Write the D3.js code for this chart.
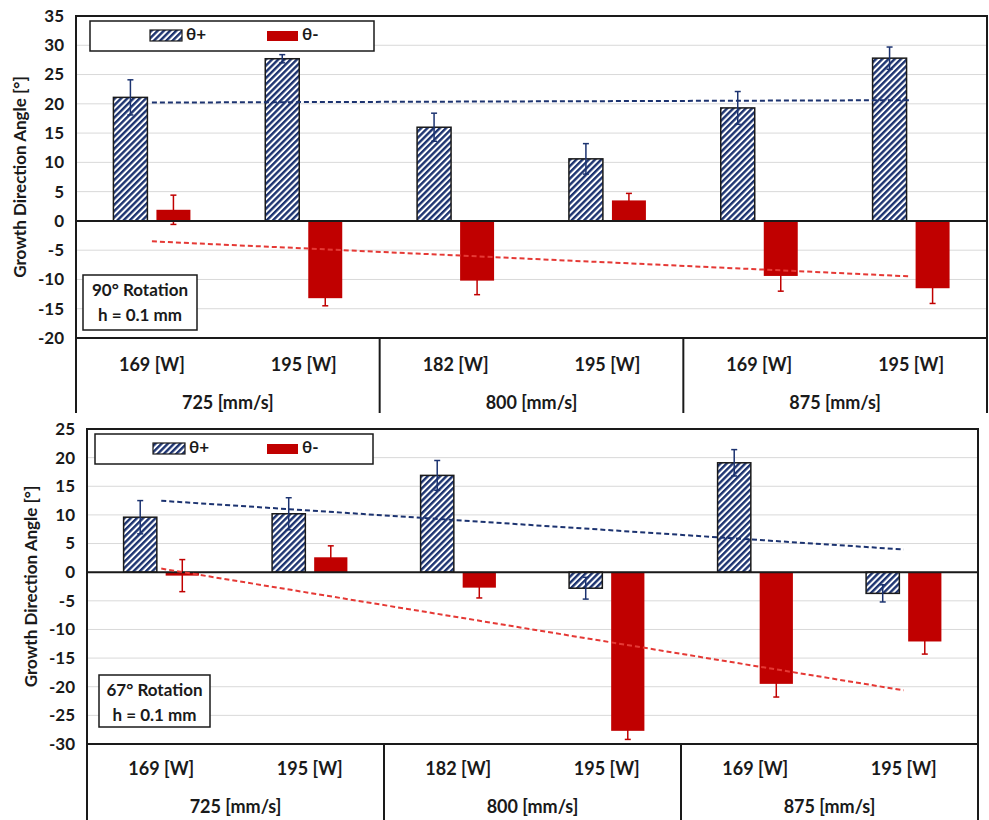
<!doctype HTML>
<html>
<head>
<script src="https://d3js.org/d3.v7.min.js"></script>
<style>
    body { margin: 0; background: #fff; }
    text { font-family: Lato, "Open Sans", sans-serif; font-weight: bold; fill: #1a1a1a; }
</style>
</head>
<body>
<script>

    // category labels (two level axis)
    var powers = ["169 [W]", "195 [W]", "182 [W]", "195 [W]", "169 [W]", "195 [W]"];
    var speeds = ["725 [mm/s]", "800 [mm/s]", "875 [mm/s]"];
    var seriesNames = ["θ+", "θ-"];

    // 90° rotation
    var plus90 = [21.1, 27.7, 16.0, 10.6, 19.3, 27.8];
    var plus90Err = [3.0, 0.7, 2.4, 2.6, 2.8, 1.9];
    var minus90 = [1.9, -13.2, -10.2, 3.5, -9.4, -11.5];
    var minus90Err = [2.5, 1.3, 2.4, 1.2, 2.6, 2.6];
    var ticks90 = [-20, -15, -10, -5, 0, 5, 10, 15, 20, 25, 30, 35];

    // 67° rotation
    var plus67 = [9.6, 10.2, 16.9, -2.8, 19.1, -3.7];
    var plus67Err = [2.9, 2.8, 2.6, 1.9, 2.3, 1.5];
    var minus67 = [-0.6, 2.6, -2.7, -27.7, -19.5, -12.1];
    var minus67Err = [2.8, 2.0, 1.8, 1.5, 2.3, 2.2];
    var ticks67 = [-30, -25, -20, -15, -10, -5, 0, 5, 10, 15, 20, 25];

    var navy = "#1c3370", red = "#c00000", trendRed = "#e53935", ink = "#1a1a1a";

    var svg = d3.select("body")
        .append("svg")
        .attr("width", 989)
        .attr("height", 820);

    // hatch for θ+ bars
    var pat = svg.append("defs").append("pattern")
        .attr("id", "hatch")
        .attr("patternUnits", "userSpaceOnUse")
        .attr("width", 4.4)
        .attr("height", 4.4)
        .attr("patternTransform", "rotate(45)");
    pat.append("rect").attr("width", 4.4).attr("height", 4.4).attr("fill", "#fff");
    pat.append("rect").attr("width", 2.4).attr("height", 4.4).attr("fill", navy);

    // least squares line over category index
    function trend(vals) {
        var xs = d3.range(vals.length);
        var mx = d3.mean(xs), my = d3.mean(vals);
        var num = d3.sum(xs, function(x, i) { return (x - mx) * (vals[i] - my); });
        var den = d3.sum(xs, function(x) { return (x - mx) * (x - mx); });
        var b = num / den;
        return xs.map(function(x) { return my + b * (x - mx); });
    }

    function drawPanel(p) {
        var g = svg.append("g");

        var x = d3.scaleBand().domain(d3.range(powers.length)).range([p.left, p.right]);
        var xs = d3.scaleBand().domain(["plus", "minus"]).range([0, x.bandwidth()])
            .paddingInner(0.21).paddingOuter(0.87);
        var y = d3.scaleLinear().domain(p.domain).range([p.bottom, p.top]);

        // gridlines
        g.selectAll(".grid")
            .data(p.ticks)
            .enter().append("line")
            .attr("x1", p.left).attr("x2", p.right)
            .attr("y1", function(d) { return y(d); })
            .attr("y2", function(d) { return y(d); })
            .attr("stroke", "#d9d9d9")
            .attr("stroke-width", 1);

        // y axis labels (plain hyphen for negatives, as in the source)
        g.append("g")
            .attr("transform", "translate(" + p.left + ",0)")
            .call(d3.axisLeft(y).tickValues(p.ticks).tickSize(0).tickPadding(12)
                .tickFormat(function(d) { return String(d); }))
            .attr("font-size", 17)
            .call(function(a) { a.select(".domain").remove(); });

        g.append("text")
            .attr("transform", "translate(" + p.titleX + "," + (p.top + p.bottom) / 2 + ") rotate(-90)")
            .attr("text-anchor", "middle")
            .attr("dominant-baseline", "middle")
            .attr("font-size", 17)
            .text("Growth Direction Angle [°]");

        // bars
        var series = [
            {key: "plus", vals: p.plus, err: p.plusErr, fill: "url(#hatch)", stroke: ink, color: navy},
            {key: "minus", vals: p.minus, err: p.minusErr, fill: red, stroke: "none", color: red}
        ];

        series.forEach(function(s) {
            g.selectAll(".bar-" + s.key)
                .data(s.vals)
                .enter().append("rect")
                .attr("x", function(d, i) { return x(i) + xs(s.key); })
                .attr("y", function(d) { return y(Math.max(0, d)); })
                .attr("width", xs.bandwidth())
                .attr("height", function(d) { return Math.abs(y(d) - y(0)); })
                .attr("fill", s.fill)
                .attr("stroke", s.stroke)
                .attr("stroke-width", 1.5);
        });

        // error bars
        series.forEach(function(s) {
            var eg = g.append("g").attr("stroke", s.color).attr("stroke-width", 1.5);
            s.vals.forEach(function(v, i) {
                var cx = x(i) + xs(s.key) + xs.bandwidth() / 2;
                var lo = y(v - s.err[i]), hi = y(v + s.err[i]);
                eg.append("line").attr("x1", cx).attr("x2", cx).attr("y1", lo).attr("y2", hi);
                eg.append("line").attr("x1", cx - 3).attr("x2", cx + 3).attr("y1", lo).attr("y2", lo);
                eg.append("line").attr("x1", cx - 3).attr("x2", cx + 3).attr("y1", hi).attr("y2", hi);
            });
        });

        // frame and multi level category axis
        g.append("path")
            .attr("d", "M" + p.left + "," + p.catBottom + "V" + p.top + "H" + p.right + "V" + p.catBottom)
            .attr("fill", "none").attr("stroke", ink).attr("stroke-width", 2);
        g.append("line")
            .attr("x1", p.left).attr("x2", p.right)
            .attr("y1", p.bottom).attr("y2", p.bottom)
            .attr("stroke", ink).attr("stroke-width", 2);
        g.append("line")
            .attr("x1", p.left).attr("x2", p.right)
            .attr("y1", y(0)).attr("y2", y(0))
            .attr("stroke", ink).attr("stroke-width", 2);
        [2, 4].forEach(function(i) {
            g.append("line")
                .attr("x1", x(i)).attr("x2", x(i))
                .attr("y1", p.bottom).attr("y2", p.catBottom)
                .attr("stroke", ink).attr("stroke-width", 2);
        });

        g.selectAll(".power")
            .data(powers)
            .enter().append("text")
            .attr("x", function(d, i) { return x(i) + x.bandwidth() / 2; })
            .attr("y", p.powerY)
            .attr("text-anchor", "middle")
            .attr("dominant-baseline", "middle")
            .attr("font-size", 18)
            .text(function(d) { return d; });

        g.selectAll(".speed")
            .data(speeds)
            .enter().append("text")
            .attr("x", function(d, i) { return x(i * 2) + x.bandwidth(); })
            .attr("y", p.speedY)
            .attr("text-anchor", "middle")
            .attr("dominant-baseline", "middle")
            .attr("font-size", 18)
            .text(function(d) { return d; });

        // linear trend lines
        var last = powers.length - 1;
        var line = d3.line()
            .x(function(d) { return x(d[0]) + x.bandwidth() / 2; })
            .y(function(d) { return y(d[1]); });
        var tPlus = trend(p.plus), tMinus = trend(p.minus);
        g.append("path")
            .attr("d", line([[0, tPlus[0]], [last, tPlus[last]]]))
            .attr("fill", "none")
            .attr("stroke", navy).attr("stroke-width", 2).attr("stroke-dasharray", "5,3");
        g.append("path")
            .attr("d", line([[0, tMinus[0]], [last, tMinus[last]]]))
            .attr("fill", "none")
            .attr("stroke", trendRed).attr("stroke-width", 2).attr("stroke-dasharray", "5,3");

        // legend
        var lb = p.legend;
        g.append("rect")
            .attr("x", lb.x).attr("y", lb.y).attr("width", lb.w).attr("height", lb.h)
            .attr("fill", "#fff").attr("stroke", ink).attr("stroke-width", 1.5);
        g.append("rect")
            .attr("x", lb.sx1).attr("y", lb.y + 9).attr("width", 32).attr("height", 11)
            .attr("fill", "url(#hatch)").attr("stroke", ink).attr("stroke-width", 1.2);
        g.append("rect")
            .attr("x", lb.sx2).attr("y", lb.y + 10).attr("width", 31).attr("height", 10)
            .attr("fill", red);
        g.append("text")
            .attr("x", lb.sx1 + 36).attr("y", lb.y + lb.h / 2)
            .attr("dominant-baseline", "middle").attr("font-size", 17)
            .text(seriesNames[0]);
        g.append("text")
            .attr("x", lb.sx2 + 35).attr("y", lb.y + lb.h / 2)
            .attr("dominant-baseline", "middle").attr("font-size", 17)
            .text(seriesNames[1]);

        // note box
        var nb = p.note;
        g.append("rect")
            .attr("x", nb.x).attr("y", nb.y).attr("width", nb.w).attr("height", nb.h)
            .attr("fill", "#fff").attr("stroke", ink).attr("stroke-width", 1.5);
        nb.lines.forEach(function(t, i) {
            g.append("text")
                .attr("x", nb.x + nb.w / 2).attr("y", nb.y + 17 + i * 25)
                .attr("text-anchor", "middle").attr("dominant-baseline", "middle")
                .attr("font-size", 17)
                .text(t);
        });
    }

    drawPanel({
        left: 76, right: 987, top: 16, bottom: 338, catBottom: 413,
        domain: [-20, 35], ticks: ticks90, titleX: 22,
        plus: plus90, plusErr: plus90Err, minus: minus90, minusErr: minus90Err,
        powerY: 366, speedY: 404,
        legend: {x: 90, y: 21, w: 284, h: 30, sx1: 150, sx2: 267},
        note: {x: 83, y: 275, w: 114, h: 55, lines: ["90° Rotation", "h = 0.1 mm"]}
    });

    drawPanel({
        left: 87, right: 978, top: 429, bottom: 744, catBottom: 820,
        domain: [-30, 25], ticks: ticks67, titleX: 33,
        plus: plus67, plusErr: plus67Err, minus: minus67, minusErr: minus67Err,
        powerY: 770, speedY: 808,
        legend: {x: 95, y: 434, w: 278, h: 30, sx1: 153, sx2: 267},
        note: {x: 99, y: 675, w: 111, h: 52, lines: ["67° Rotation", "h = 0.1 mm"]}
    });

</script>
</body>
</html>
